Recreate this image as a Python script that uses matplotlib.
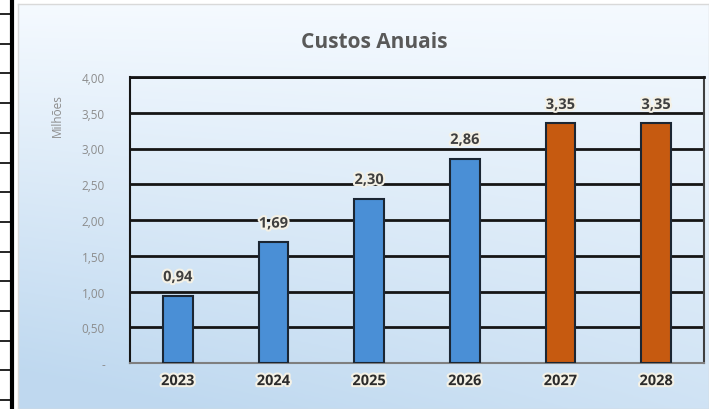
import numpy as np
import matplotlib.pyplot as plt
import matplotlib.patheffects as pe

# Custos anuais (milhões)
anos = ["2023", "2024", "2025", "2026", "2027", "2028"]
custos = [0.94, 1.69, 2.30, 2.86, 3.35, 3.35]
rotulos = ["0,94", "1,69", "2,30", "2,86", "3,35", "3,35"]
yticks = [0, 0.5, 1.0, 1.5, 2.0, 2.5, 3.0, 3.5, 4.0]
ytick_labels = ["-", "0,50", "1,00", "1,50", "2,00", "2,50", "3,00", "3,50", "4,00"]
cores = ["#4A8FD6"] * 4 + ["#C65A10"] * 2

plt.rcParams['font.family'] = ['Open Sans', 'DejaVu Sans']

W, H = 709, 410
fig = plt.figure(figsize=(W / 100, H / 100), dpi=100)

# left strip (table edge)
strip = fig.add_axes([0, 0, 1, 1])
strip.set_xlim(0, W)
strip.set_ylim(H, 0)
strip.axis("off")
strip.plot([11.5, 11.5], [0, H], color="black", lw=3)
for y in np.arange(15, H, 29.7):
    strip.plot([0, 11], [y, y], color="black", lw=1.2)

# chart area with gradient
bg = fig.add_axes([18 / W, 0, (W - 18) / W, (H - 5) / H])
yy, xx = np.mgrid[0:1:200j, 0:1:200j]
t = np.clip(0.7 * yy + 0.4 * (1 - xx) * yy, 0, 1)
top = np.array([0.96, 0.98, 1.0])
bot = np.array([0.75, 0.85, 0.94])
img = top[None, None, :] * (1 - t[..., None]) + bot[None, None, :] * t[..., None]
bg.imshow(img, aspect="auto", extent=[0, 1, 0, 1], origin="upper")
bg.set_xlim(0, 1)
bg.set_ylim(0, 1)
bg.set_xticks([])
bg.set_yticks([])
for s in bg.spines.values():
    s.set_color("#D9D9D9")
    s.set_linewidth(1)

ax = fig.add_axes([130 / W, 1 - 364 / H, (704 - 130) / W, (364 - 78) / H])
ax.set_facecolor("none")
x = np.arange(len(anos))
ax.set_axisbelow(True)
ax.yaxis.grid(True, color="#151515", lw=2)
ax.bar(x, custos, width=0.31, color=cores, edgecolor="#1B2633", lw=1.5, zorder=3)
glow = [pe.withStroke(linewidth=3, foreground="#F4F1E6")]
for xi, v, lab in zip(x, custos, rotulos):
    t_ = ax.text(xi, v + 0.26, lab, ha="center", va="center", fontsize=10.5,
                 fontweight="bold", color="#3F3F3F", zorder=4)
    t_.set_path_effects(glow)

ax.set_xlim(-0.5, len(anos) - 0.5)
ax.set_ylim(0, 4.0)
ax.set_yticks(yticks)
ax.set_yticklabels(ytick_labels, fontsize=8.5, color="#8C8C8C")
ax.set_xticks(x)
ax.set_xticklabels(anos, fontsize=10.5, fontweight="bold", color="#2B2B2B")
for lab in ax.get_xticklabels():
    lab.set_path_effects(glow)
ax.tick_params(axis="y", length=0, pad=18)
ax.tick_params(axis="x", length=0, pad=8)
ax.spines["top"].set_color("#151515")
ax.spines["top"].set_linewidth(2)
ax.spines["left"].set_color("#151515")
ax.spines["left"].set_linewidth(1.5)
ax.spines["right"].set_color("#404040")
ax.spines["right"].set_linewidth(1.5)
ax.spines["bottom"].set_color("#7F7F7F")
ax.spines["bottom"].set_linewidth(1.5)

fig.text(57 / W, 1 - 116 / H, "Milhões", rotation=90, ha="center", va="center",
         fontsize=8.5, color="#8C8C8C")
fig.text(374 / W, 1 - 42 / H, "Custos Anuais", ha="center", va="center",
         fontsize=15, fontweight="bold", color="#595959")

fig.savefig("out.png", dpi=100)
